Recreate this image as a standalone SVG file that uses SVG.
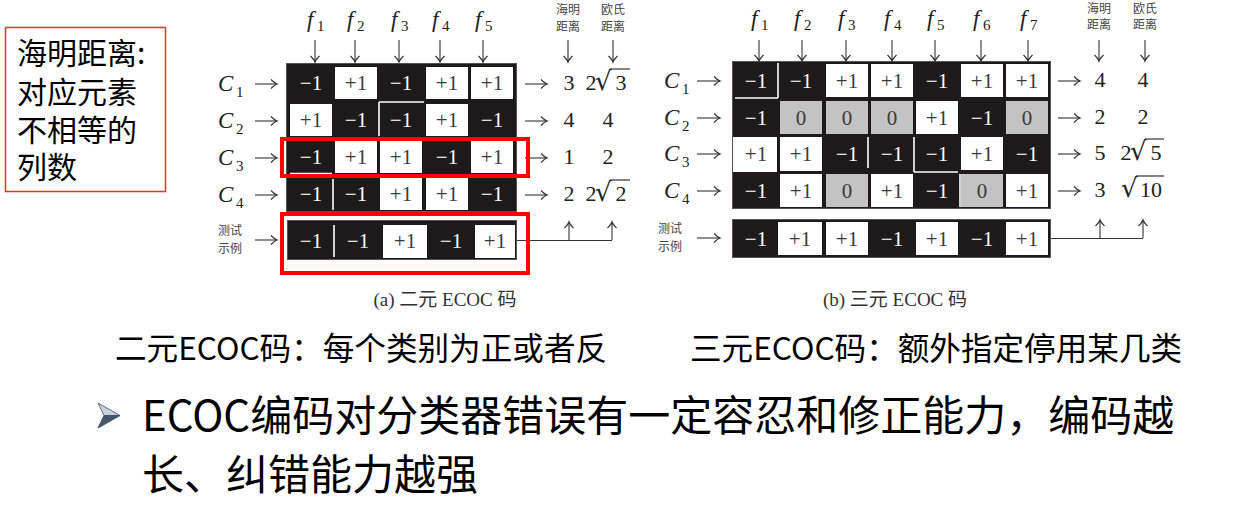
<svg xmlns="http://www.w3.org/2000/svg" width="1239" height="511" viewBox="0 0 1239 511">
<style>
.cjk{font-family:"Noto Sans CJK SC","Noto Sans",sans-serif}
.serif{font-family:"Liberation Serif","DejaVu Serif","Noto Sans CJK SC",serif}
.it{font-family:"Liberation Serif",serif;font-style:italic;font-size:23px;fill:#222}
.sub{font-family:"Liberation Serif",serif;font-size:15px;fill:#222}
.hdr{font-family:"Noto Sans CJK SC",sans-serif;font-size:12px;fill:#444}
.blk{fill:#1c1a1a;stroke:#555;stroke-width:1}
.w{fill:#fff}
.g{fill:#c3c3c3}
.neg{font-family:"Liberation Serif",serif;font-size:21px;fill:#fff;text-anchor:middle}
.pos{font-family:"Liberation Serif",serif;font-size:21px;fill:#3a3a3a;text-anchor:middle}
.val{font-family:"Liberation Serif",serif;font-size:22px;fill:#222;text-anchor:middle}
.rad{font-family:"DejaVu Serif",serif;font-size:26px;fill:#222}
.vin{stroke:#222;stroke-width:1.1}
.art{stroke:#fff;stroke-width:1.6}
.arr{fill:none;stroke:#333;stroke-width:1.1;marker-end:url(#ah)}
.conn{fill:none;stroke:#333;stroke-width:1.1}
.hl{fill:none;stroke:#ff0000;stroke-width:4}
</style>
<defs>
<marker id="ah" viewBox="-8 -6 10 12" refX="0" refY="0" markerWidth="10" markerHeight="12" markerUnits="userSpaceOnUse" orient="auto">
<path d="M-6,-4.5 Q-2,-0.6 0,0 Q-2,0.6 -6,4.5" fill="none" stroke="#333" stroke-width="1.2"/>
</marker>
</defs>
<rect width="1239" height="511" fill="#fff"/>

<g id="note">
<rect x="5.5" y="27.5" width="160" height="164" fill="none" stroke="#ff2a2a" stroke-width="1.5"/>
<text class="cjk" font-size="30" fill="#000"><tspan x="17" y="64">海明距离:</tspan><tspan x="17" y="103">对应元素</tspan><tspan x="17" y="141">不相等的</tspan><tspan x="17" y="178">列数</tspan></text>
</g>

<g id="headers-a">
<text class="it" x="307" y="27">f</text><text class="sub" x="317" y="31">1</text>
<text class="it" x="347" y="27">f</text><text class="sub" x="357" y="31">2</text>
<text class="it" x="391" y="27">f</text><text class="sub" x="401" y="31">3</text>
<text class="it" x="432" y="27">f</text><text class="sub" x="442" y="31">4</text>
<text class="it" x="475" y="27">f</text><text class="sub" x="485" y="31">5</text>
<text class="hdr" x="568" y="14" text-anchor="middle">海明</text>
<text class="hdr" x="568" y="31" text-anchor="middle">距离</text>
<text class="hdr" x="613" y="14" text-anchor="middle">欧氏</text>
<text class="hdr" x="613" y="31" text-anchor="middle">距离</text>
</g>

<g id="rowlabels-a">
<text class="it" x="218" y="91">C</text><text class="sub" x="236" y="97">1</text>
<text class="it" x="218" y="128">C</text><text class="sub" x="236" y="134">2</text>
<text class="it" x="218" y="165">C</text><text class="sub" x="236" y="171">3</text>
<text class="it" x="218" y="202">C</text><text class="sub" x="236" y="208">4</text>
<text class="hdr" x="230" y="235" text-anchor="middle" fill="#555" font-size="13">测试</text>
<text class="hdr" x="230" y="253" text-anchor="middle" fill="#555" font-size="13">示例</text>
</g>

<g id="grid-a">
<rect class="blk" x="286.5" y="63.5" width="230" height="148"/>
<rect class="w" x="335" y="67" width="42" height="32"/>
<rect class="w" x="426" y="67" width="42" height="32"/>
<rect class="w" x="471" y="67" width="42" height="32"/>
<rect class="w" x="290" y="104" width="42" height="32"/>
<rect class="w" x="426" y="104" width="42" height="32"/>
<rect class="w" x="335" y="141" width="42" height="32"/>
<rect class="w" x="380" y="141" width="42" height="32"/>
<rect class="w" x="471" y="141" width="42" height="32"/>
<rect class="w" x="380" y="178" width="42" height="32"/>
<rect class="w" x="426" y="178" width="42" height="32"/>
<line class="art" x1="379" y1="102" x2="424" y2="102"/>
<line class="art" x1="379" y1="102" x2="379" y2="136"/>
<line class="art" x1="290" y1="173.5" x2="332" y2="173.5"/>
<line class="art" x1="333" y1="179" x2="333" y2="210"/>
<text class="neg" x="311" y="90">−1</text><text class="pos" x="356" y="90">+1</text><text class="neg" x="401" y="90">−1</text><text class="pos" x="447" y="90">+1</text><text class="pos" x="492" y="90">+1</text>
<text class="pos" x="311" y="127">+1</text><text class="neg" x="356" y="127">−1</text><text class="neg" x="401" y="127">−1</text><text class="pos" x="447" y="127">+1</text><text class="neg" x="492" y="127">−1</text>
<text class="neg" x="311" y="164">−1</text><text class="pos" x="356" y="164">+1</text><text class="pos" x="401" y="164">+1</text><text class="neg" x="447" y="164">−1</text><text class="pos" x="492" y="164">+1</text>
<text class="neg" x="311" y="201">−1</text><text class="neg" x="356" y="201">−1</text><text class="pos" x="401" y="201">+1</text><text class="pos" x="447" y="201">+1</text><text class="neg" x="492" y="201">−1</text>
</g>

<g id="test-a">
<rect class="blk" x="287.5" y="220.5" width="229" height="39"/>
<rect class="w" x="383" y="225" width="44" height="33"/>
<rect class="w" x="475" y="225" width="40" height="33"/>
<line class="art" x1="334" y1="225" x2="334" y2="257"/>
<text class="neg" x="311" y="248">−1</text><text class="neg" x="358" y="248">−1</text><text class="pos" x="405" y="248">+1</text><text class="neg" x="451" y="248">−1</text><text class="pos" x="495" y="248">+1</text>
</g>

<g id="values-a">
<text class="val" x="569" y="90">3</text>
<text class="val" x="591" y="90">2</text><text class="rad" x="595" y="90">√</text><text class="val" x="621" y="90">3</text>
<line class="vin" x1="610" y1="69" x2="630" y2="69"/>
<text class="val" x="569" y="127">4</text><text class="val" x="608" y="127">4</text>
<text class="val" x="569" y="164">1</text><text class="val" x="608" y="164">2</text>
<text class="val" x="569" y="201">2</text>
<text class="val" x="591" y="201">2</text><text class="rad" x="595" y="201">√</text><text class="val" x="621" y="201">2</text>
<line class="vin" x1="610" y1="180" x2="630" y2="180"/>
</g>

<g id="headers-b">
<text class="it" x="751" y="26">f</text><text class="sub" x="761" y="30">1</text>
<text class="it" x="794" y="26">f</text><text class="sub" x="804" y="30">2</text>
<text class="it" x="838" y="26">f</text><text class="sub" x="848" y="30">3</text>
<text class="it" x="884" y="26">f</text><text class="sub" x="894" y="30">4</text>
<text class="it" x="927" y="26">f</text><text class="sub" x="937" y="30">5</text>
<text class="it" x="973" y="26">f</text><text class="sub" x="983" y="30">6</text>
<text class="it" x="1020" y="26">f</text><text class="sub" x="1030" y="30">7</text>
<text class="hdr" x="1099" y="13" text-anchor="middle">海明</text>
<text class="hdr" x="1099" y="29" text-anchor="middle">距离</text>
<text class="hdr" x="1145" y="13" text-anchor="middle">欧氏</text>
<text class="hdr" x="1145" y="29" text-anchor="middle">距离</text>
</g>

<g id="rowlabels-b">
<text class="it" x="664" y="88">C</text><text class="sub" x="682" y="94">1</text>
<text class="it" x="664" y="125">C</text><text class="sub" x="682" y="131">2</text>
<text class="it" x="664" y="161">C</text><text class="sub" x="682" y="167">3</text>
<text class="it" x="664" y="198">C</text><text class="sub" x="682" y="204">4</text>
<text class="hdr" x="670" y="233" text-anchor="middle" fill="#555" font-size="13">测试</text>
<text class="hdr" x="670" y="251" text-anchor="middle" fill="#555" font-size="13">示例</text>
</g>

<g id="grid-b">
<rect class="blk" x="732.5" y="61.5" width="318" height="147"/>
<rect class="w" x="826" y="64" width="42" height="33"/>
<rect class="w" x="871" y="64" width="42" height="33"/>
<rect class="w" x="961" y="64" width="42" height="33"/>
<rect class="w" x="1006" y="64" width="42" height="33"/>
<rect class="g" x="780" y="101" width="42" height="33"/>
<rect class="g" x="826" y="101" width="42" height="33"/>
<rect class="g" x="871" y="101" width="42" height="33"/>
<rect class="w" x="916" y="101" width="42" height="33"/>
<rect class="g" x="1006" y="101" width="42" height="33"/>
<rect class="w" x="733" y="137" width="44" height="35"/>
<rect class="w" x="780" y="137" width="42" height="34"/>
<rect class="w" x="961" y="137" width="42" height="33"/>
<rect class="w" x="780" y="174" width="42" height="33"/>
<rect class="g" x="826" y="174" width="42" height="33"/>
<rect class="w" x="871" y="174" width="42" height="33"/>
<rect class="g" x="961" y="174" width="42" height="33"/>
<rect class="w" x="1006" y="174" width="42" height="33"/>
<line class="art" x1="735" y1="98" x2="778" y2="98"/>
<line class="art" x1="778" y1="63" x2="778" y2="98"/>
<line class="art" x1="868" y1="137" x2="868" y2="168"/>
<line class="art" x1="914" y1="137" x2="914" y2="172"/>
<line class="art" x1="914" y1="172" x2="958" y2="172"/>
<line class="art" x1="960" y1="174" x2="960" y2="207"/>
<text class="neg" x="756" y="88">−1</text><text class="neg" x="801" y="88">−1</text><text class="pos" x="847" y="88">+1</text><text class="pos" x="892" y="88">+1</text><text class="neg" x="937" y="88">−1</text><text class="pos" x="982" y="88">+1</text><text class="pos" x="1027" y="88">+1</text>
<text class="neg" x="756" y="125">−1</text><text class="pos" x="801" y="125">0</text><text class="pos" x="847" y="125">0</text><text class="pos" x="892" y="125">0</text><text class="pos" x="937" y="125">+1</text><text class="neg" x="982" y="125">−1</text><text class="pos" x="1027" y="125">0</text>
<text class="pos" x="756" y="161">+1</text><text class="pos" x="801" y="161">+1</text><text class="neg" x="847" y="161">−1</text><text class="neg" x="892" y="161">−1</text><text class="neg" x="937" y="161">−1</text><text class="pos" x="982" y="161">+1</text><text class="neg" x="1027" y="161">−1</text>
<text class="neg" x="756" y="198">−1</text><text class="pos" x="801" y="198">+1</text><text class="pos" x="847" y="198">0</text><text class="pos" x="892" y="198">+1</text><text class="neg" x="937" y="198">−1</text><text class="pos" x="982" y="198">0</text><text class="pos" x="1027" y="198">+1</text>
</g>

<g id="test-b">
<rect class="blk" x="732.5" y="219.5" width="318" height="38"/>
<rect class="w" x="778" y="222" width="44" height="33"/>
<rect class="w" x="826" y="222" width="42" height="33"/>
<rect class="w" x="916" y="222" width="42" height="33"/>
<rect class="w" x="1006" y="222" width="42" height="33"/>
<text class="neg" x="756" y="246">−1</text><text class="pos" x="800" y="246">+1</text><text class="pos" x="847" y="246">+1</text><text class="neg" x="892" y="246">−1</text><text class="pos" x="937" y="246">+1</text><text class="neg" x="982" y="246">−1</text><text class="pos" x="1027" y="246">+1</text>
</g>

<g id="values-b">
<text class="val" x="1100" y="87">4</text><text class="val" x="1143" y="87">4</text>
<text class="val" x="1100" y="124">2</text><text class="val" x="1143" y="124">2</text>
<text class="val" x="1100" y="160">5</text>
<text class="val" x="1126" y="160">2</text><text class="rad" x="1130" y="160">√</text><text class="val" x="1156" y="160">5</text>
<line class="vin" x1="1145" y1="139" x2="1164" y2="139"/>
<text class="val" x="1100" y="197">3</text>
<text class="rad" x="1121" y="197">√</text><text class="val" x="1151" y="197">10</text>
<line class="vin" x1="1136" y1="176" x2="1164" y2="176"/>
</g>

<g id="connectors">
<path class="arr" d="M315,40 V62"/><path class="arr" d="M355,40 V62"/><path class="arr" d="M399,40 V62"/><path class="arr" d="M440,40 V62"/><path class="arr" d="M483,40 V62"/>
<path class="arr" d="M568,40 V62"/><path class="arr" d="M613,40 V62"/>
<path class="arr" d="M255,84 H277"/><path class="arr" d="M255,121 H277"/><path class="arr" d="M255,158 H277"/><path class="arr" d="M255,195 H277"/><path class="arr" d="M255,240 H277"/>
<path class="arr" d="M525,84 H547"/><path class="arr" d="M525,121 H547"/><path class="arr" d="M525,158 H547"/><path class="arr" d="M525,195 H547"/>
<path class="conn" d="M517,240.5 H612"/>
<path class="arr" d="M569,240 V222"/><path class="arr" d="M612,240 V222"/>
<path class="arr" d="M759,40 V61"/><path class="arr" d="M802,40 V61"/><path class="arr" d="M846,40 V61"/><path class="arr" d="M892,40 V61"/><path class="arr" d="M935,40 V61"/><path class="arr" d="M981,40 V61"/><path class="arr" d="M1028,40 V61"/>
<path class="arr" d="M1099,40 V61"/><path class="arr" d="M1145,40 V61"/>
<path class="arr" d="M697,81 H720"/><path class="arr" d="M697,118 H720"/><path class="arr" d="M697,154 H720"/><path class="arr" d="M697,191 H720"/><path class="arr" d="M697,238 H720"/>
<path class="arr" d="M1058,81 H1080"/><path class="arr" d="M1058,118 H1080"/><path class="arr" d="M1058,154 H1080"/><path class="arr" d="M1058,191 H1080"/>
<path class="conn" d="M1051,238.5 H1143"/>
<path class="arr" d="M1100,238 V220"/><path class="arr" d="M1143,238 V220"/>
</g>

<g id="highlights">
<rect class="hl" x="282" y="139" width="246" height="37"/>
<rect class="hl" x="282" y="214" width="246" height="59"/>
</g>

<g id="captions">
<text class="serif" x="445" y="306" font-size="19" fill="#333" text-anchor="middle">(a) 二元 ECOC 码</text>
<text class="serif" x="895" y="306" font-size="19" fill="#333" text-anchor="middle">(b) 三元 ECOC 码</text>
<text class="cjk" x="115" y="360" font-size="31.6" fill="#000">二元ECOC码：每个类别为正或者反</text>
<text class="cjk" x="690" y="360" font-size="31.6" fill="#000">三元ECOC码：额外指定停用某几类</text>
</g>

<g id="bullet">
<polygon points="98,403 120,415.5 104,415.5" fill="#c9d2dc" stroke="#5a6a7e" stroke-width="1"/>
<polygon points="98,428 120,415.5 104,415.5" fill="#44546a" stroke="#44546a" stroke-width="1"/>
<text class="cjk" font-size="42" fill="#000"><tspan x="142" y="431">ECOC编码对分类器错误有一定容忍和修正能力，编码越</tspan><tspan x="142" y="490">长、纠错能力越强</tspan></text>
</g>
</svg>
